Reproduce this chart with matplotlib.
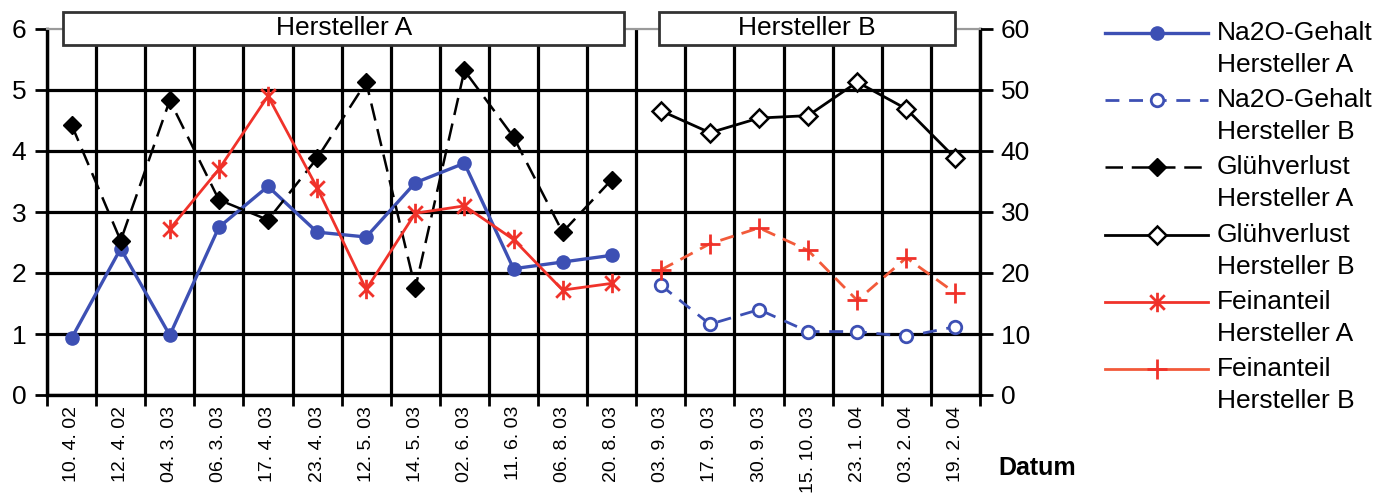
import matplotlib
matplotlib.use('Agg')
import matplotlib.pyplot as plt
import numpy as np
from matplotlib.path import Path
from matplotlib.patches import Rectangle
from matplotlib.lines import Line2D

plt.rcParams['font.family'] = ['Liberation Sans', 'DejaVu Sans']

# --- data ---
dates_a = ['10. 4. 02', '12. 4. 02', '04. 3. 03', '06. 3. 03', '17. 4. 03', '23. 4. 03',
           '12. 5. 03', '14. 5. 03', '02. 6. 03', '11. 6. 03', '06. 8. 03', '20. 8. 03']
dates_b = ['03. 9. 03', '17. 9. 03', '30. 9. 03', '15. 10. 03', '23. 1. 04', '03. 2. 04', '19. 2. 04']

na2o_a = [0.93, 2.40, 0.98, 2.75, 3.42, 2.67, 2.59, 3.48, 3.80, 2.07, 2.18, 2.29]   # left axis
na2o_b = [1.80, 1.16, 1.40, 1.04, 1.04, 0.96, 1.12]
gluh_a = [44.3, 25.3, 48.3, 32.0, 28.7, 38.8, 51.3, 17.5, 53.2, 42.3, 26.7, 35.3]   # right axis
gluh_b = [46.6, 43.0, 45.4, 45.8, 51.3, 46.9, 38.8]
fein_a = [np.nan, np.nan, 27.2, 37.0, 49.0, 34.0, 17.3, 29.8, 31.0, 25.5, 17.2, 18.3]
fein_b = [20.5, 24.8, 27.4, 23.7, 15.5, 22.5, 16.7]

groups = ['Hersteller A', 'Hersteller B']
legend_labels = [('Na2O-Gehalt', 'Hersteller A'), ('Na2O-Gehalt', 'Hersteller B'),
                 ('Glühverlust', 'Hersteller A'), ('Glühverlust', 'Hersteller B'),
                 ('Feinanteil', 'Hersteller A'), ('Feinanteil', 'Hersteller B')]

blue = '#3d50b4'
red = '#f0322a'
red2 = '#f25a3a'
ast = Path([(0, -1), (0, 1), (-0.75, -0.75), (0.75, 0.75), (-0.75, 0.75), (0.75, -0.75)],
           [Path.MOVETO, Path.LINETO, Path.MOVETO, Path.LINETO, Path.MOVETO, Path.LINETO])

styles = [
    dict(color=blue, ls='-', lw=2.4, marker='o', ms=9.5, mfc=blue, mec=blue),
    dict(color=blue, ls=(0, (5, 3.5)), lw=2.0, marker='o', ms=9, mfc='white', mec=blue, mew=2),
    dict(color='black', ls=(0, (7, 3.5)), lw=1.8, marker='D', ms=9, mfc='black', mec='black'),
    dict(color='black', ls='-', lw=2.0, marker='D', ms=9, mfc='white', mec='black', mew=1.8),
    dict(color=red, ls='-', lw=2.0, marker=ast, ms=14, mec=red, mew=2.0),
    dict(color=red2, ls=(0, (5, 3)), lw=2.0, marker='+', ms=14, mec=red, mew=2.0),
]
legend_ls = [None, None, None, None, None, '-']

W, H = 1394, 497
fig = plt.figure(figsize=(W / 100, H / 100), dpi=100)
ax = fig.add_axes([47 / W, 1 - 395 / H, (980 - 47) / W, (395 - 29) / H])
ax2 = ax.twinx()

n_a, n_b = len(dates_a), len(dates_b)
n = n_a + n_b
xa = np.arange(n_a) + 0.5
xb = n_a + np.arange(n_b) + 0.5

ax.set_xlim(0, n)
ax.set_ylim(0, 6)
ax2.set_ylim(0, 60)

# gridlines sit on category boundaries, labels in the middle
ax.set_xticks(np.arange(0, n + 1))
ax.set_xticklabels([])
ax.set_xticks(np.concatenate([xa, xb]), minor=True)
ax.set_xticklabels(dates_a + dates_b, minor=True, rotation=90, fontsize=14)
ax.tick_params(axis='x', which='minor', length=0, pad=8)
ax.tick_params(axis='x', which='major', length=8, width=2, direction='out')
ax.set_yticks(range(7))
ax.tick_params(axis='y', labelsize=19, length=9, width=2, pad=6)
ax2.set_yticks(range(0, 61, 10))
ax2.tick_params(axis='y', labelsize=19, length=9, width=2, pad=6)

ax.grid(True, which='major', color='black', lw=2.3)
ax.get_ygridlines()[-1].set_color('#9a9a9a')
ax.get_ygridlines()[-1].set_linewidth(1.5)
for a in (ax, ax2):
    for s in ('left', 'right', 'bottom'):
        a.spines[s].set_linewidth(2.3)
    a.spines['top'].set_color('#9a9a9a')
    a.spines['top'].set_linewidth(1.5)

ax.plot(xa, na2o_a, **styles[0], zorder=3)
ax.plot(xb, na2o_b, **styles[1], zorder=3)
ax2.plot(xa, gluh_a, **styles[2], zorder=3)
ax2.plot(xb, gluh_b, **styles[3], zorder=3)
ax2.plot(xa, fein_a, **styles[4], zorder=3)
ax2.plot(xb, fein_b, **styles[5], zorder=3)

# group header boxes
for x0, x1, name in [(0.33, n_a - 0.24, groups[0]), (n_a + 0.47, n - 0.51, groups[1])]:
    ax2.add_patch(Rectangle((x0, 57.4), x1 - x0, 5.4, facecolor='white', edgecolor='#333333',
                            lw=2, clip_on=False, zorder=5))
    ax2.text((x0 + x1) / 2, 60.1, name, ha='center', va='center', fontsize=19, zorder=6)

fig.text(998 / W, 1 - 468 / H, 'Datum', fontsize=18, fontweight='bold', va='center')

# legend, handle aligned with first text line
for i, ((l1, l2), st) in enumerate(zip(legend_labels, styles)):
    y = 33 + 67.2 * i
    line_kw = {k: v for k, v in st.items() if k in ('color', 'ls', 'lw')}
    if legend_ls[i]:
        line_kw['ls'] = legend_ls[i]
    fig.add_artist(Line2D([1105 / W, 1208 / W], [1 - y / H, 1 - y / H],
                          transform=fig.transFigure, **line_kw))
    mark_kw = {k: v for k, v in st.items() if k not in ('ls', 'lw')}
    fig.add_artist(Line2D([1157 / W], [1 - y / H], transform=fig.transFigure, ls='none', **mark_kw))
    fig.text(1217 / W, 1 - y / H, l1, fontsize=19, va='center')
    fig.text(1217 / W, 1 - (y + 32) / H, l2, fontsize=19, va='center')

fig.savefig('out.png', dpi=100)
